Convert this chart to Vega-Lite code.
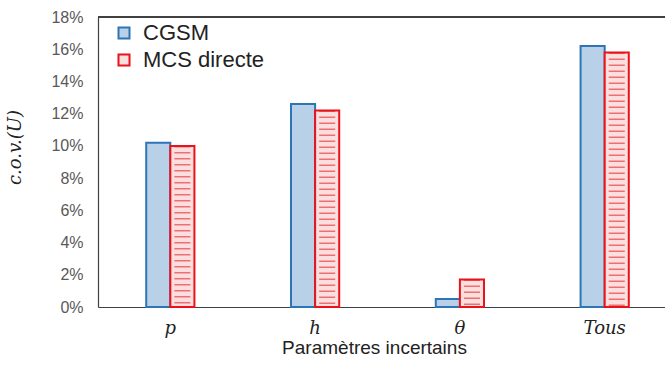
{
  "$schema": "https://vega.github.io/schema/vega-lite/v6.json",
  "width": 567,
  "height": 290,
  "autosize": {"type": "none"},
  "padding": {"left": 98, "top": 17, "right": 0, "bottom": 58},
  "background": "white",
  "config": {"view": {"stroke": null}, "font": "Liberation Sans"},
  "data": {"values": [
    {"param": "p", "serie": "CGSM", "cov": 0.102},
    {"param": "p", "serie": "MCS directe", "cov": 0.100},
    {"param": "h", "serie": "CGSM", "cov": 0.126},
    {"param": "h", "serie": "MCS directe", "cov": 0.122},
    {"param": "θ", "serie": "CGSM", "cov": 0.005},
    {"param": "θ", "serie": "MCS directe", "cov": 0.017},
    {"param": "Tous", "serie": "CGSM", "cov": 0.162},
    {"param": "Tous", "serie": "MCS directe", "cov": 0.158}
  ]},
  "encoding": {
    "x": {
      "field": "param", "type": "nominal", "sort": ["p", "h", "θ", "Tous"],
      "scale": {"range": [0, 579], "paddingInner": 0.667, "paddingOuter": 0.333},
      "axis": {
        "labelAngle": 0, "ticks": false, "domainColor": "#404040", "domainWidth": 1.2,
        "labelFont": "DejaVu Serif", "labelFontStyle": "italic", "labelFontSize": 18,
        "labelColor": "#222222", "labelPadding": 12,
        "title": "Paramètres incertains", "titleFont": "Liberation Sans", "titleFontSize": 19,
        "titleFontWeight": "normal", "titleColor": "#222222", "titleX": 276, "titlePadding": 1
      }
    },
    "xOffset": {"field": "serie", "type": "nominal", "scale": {"paddingInner": 0, "paddingOuter": 0}},
    "y": {
      "field": "cov", "type": "quantitative",
      "scale": {"domain": [0, 0.18], "nice": false},
      "axis": {
        "values": [0, 0.02, 0.04, 0.06, 0.08, 0.1, 0.12, 0.14, 0.16, 0.18],
        "format": ".0%", "grid": false, "ticks": false, "domainColor": "#404040", "domainWidth": 1.2,
        "labelFontSize": 16, "labelColor": "#595959", "labelPadding": 15,
        "title": "c.o.v.(U)", "titleFont": "DejaVu Serif", "titleFontStyle": "italic",
        "titleFontSize": 18, "titleFontWeight": "normal", "titleColor": "#222222",
        "titleX": -74, "titleY": 130
      }
    }
  },
  "layer": [
    {
      "mark": {"type": "bar", "strokeWidth": 2},
      "encoding": {
        "fill": {
          "field": "serie", "type": "nominal",
          "scale": {"domain": ["CGSM", "MCS directe"], "range": ["#b8d1e8", "#fbdede"]},
          "legend": {
            "orient": "none", "legendX": 15, "legendY": 5, "title": null,
            "labelFontSize": 22, "labelColor": "#222222", "symbolType": "square",
            "symbolSize": 121, "symbolStrokeWidth": 2, "rowPadding": 5, "labelOffset": 8
          }
        },
        "stroke": {
          "field": "serie", "type": "nominal",
          "scale": {"domain": ["CGSM", "MCS directe"], "range": ["#2e75b6", "#e8131b"]},
          "legend": null
        }
      }
    },
    {
      "transform": [{"filter": "datum.serie === 'MCS directe'"}],
      "mark": {"type": "rule", "strokeWidth": 16, "strokeDash": [1.5, 4.5], "color": "#e8131b", "opacity": 0.55},
      "encoding": {"y2": {"datum": 0}}
    },
    {
      "mark": {"type": "rule", "color": "#404040", "strokeWidth": 1.2},
      "encoding": {"y": {"datum": 0.18}, "x": null, "xOffset": null}
    }
  ]
}
